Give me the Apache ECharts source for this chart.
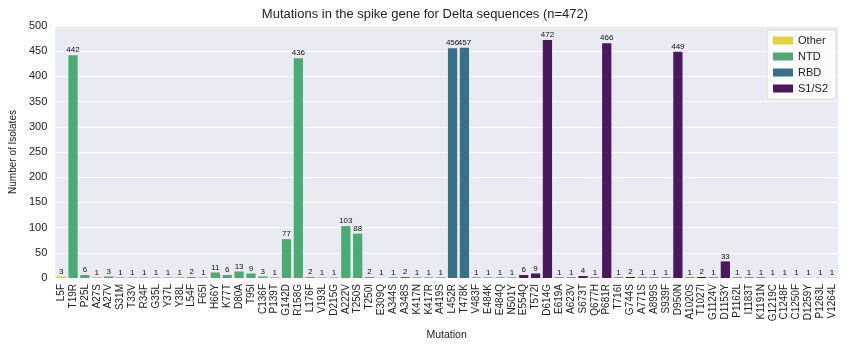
<!DOCTYPE html>
<html><head><meta charset="utf-8">
<script src="https://cdn.jsdelivr.net/npm/echarts@6/dist/echarts.min.js"></script>
<style>html,body{margin:0;padding:0;background:#fff}#c{width:850px;height:348px}</style>
</head><body><div id="c"></div>
<script>
const categories = ["L5F","T19R","P25L","A27S","A27V","S31M","T33V","R34F","G35L","Y37L","Y38L","L54F","F65I","H66Y","K77T","D80A","T95I","C136F","P139T","G142D","R158G","L176F","V193L","D215G","A222V","T250S","T250I","E309Q","A344S","A348S","K417N","K417R","A419S","L452R","T478K","V483F","E484K","E484Q","N501Y","E554Q","T572I","D614G","E619A","A623V","S673T","Q677H","P681R","T716I","G744S","A771S","A899S","S939F","D950N","A1020S","T1027I","G1124V","D1153Y","P1162L","I1183T","K1191N","G1219C","C1248F","C1250F","D1259Y","P1263L","V1264L"];
const counts = [3,442,6,1,3,1,1,1,1,1,1,2,1,11,6,13,9,3,1,77,436,2,1,1,103,88,2,1,1,2,1,1,1,456,457,1,1,1,1,6,9,472,1,1,4,1,466,1,2,1,1,1,449,1,2,1,33,1,1,1,1,1,1,1,1,1];
const regions = ["Other","NTD","NTD","NTD","NTD","NTD","NTD","NTD","NTD","NTD","NTD","NTD","NTD","NTD","NTD","NTD","NTD","NTD","NTD","NTD","NTD","NTD","NTD","NTD","NTD","NTD","NTD","Other","RBD","RBD","RBD","RBD","RBD","RBD","RBD","RBD","RBD","RBD","RBD","S1/S2","S1/S2","S1/S2","S1/S2","S1/S2","S1/S2","S1/S2","S1/S2","S1/S2","S1/S2","S1/S2","S1/S2","S1/S2","S1/S2","S1/S2","S1/S2","S1/S2","S1/S2","S1/S2","S1/S2","S1/S2","Other","Other","Other","Other","Other","Other"];
const groups = ["Other","NTD","RBD","S1/S2"];
const colors = {"Other":"#e3d23f","NTD":"#4cab73","RBD":"#3a6f88","S1/S2":"#48195d"};
const yTicks = {min:0,max:500,interval:50};

const series = groups.map(g => ({
  name: g, type: 'bar', stack: 'all', barWidth: '78%',
  itemStyle: {color: colors[g]},
  label: {show: true, position: 'top', fontSize: 8, color: '#111', distance: 1, fontFamily: 'Liberation Sans'},
  data: counts.map((v,i) => regions[i] === g ? v : '-')
}));

const chart = echarts.init(document.getElementById('c'));
chart.setOption({
  animation: false,
  backgroundColor: '#fff',
  title: {text: 'Mutations in the spike gene for Delta sequences (n=472)', left: 'center', top: 3,
    textStyle: {fontSize: 13, fontWeight: 'normal', color: '#222', fontFamily: 'Liberation Sans'}},
  grid: {left: 50, right: 12, top: 26, bottom: 70, show: true, backgroundColor: '#eaeaf2', borderWidth: 0},
  legend: {data: groups, orient: 'vertical', right: 14, top: 30, icon: 'rect', itemWidth: 20, itemHeight: 8,
    itemGap: 5, backgroundColor: 'rgba(255,255,255,0.85)', borderColor: '#dcdcdc', borderWidth: 1, borderRadius: 3,
    padding: [5,8,5,6], textStyle: {fontSize: 11, color: '#222', fontFamily: 'Liberation Sans'}},
  xAxis: {type: 'category', data: categories, name: 'Mutation', nameLocation: 'middle', nameGap: 38,
    nameTextStyle: {fontSize: 10.5, color: '#222', fontFamily: 'Liberation Sans'},
    axisLine: {show: false}, axisTick: {show: false},
    axisLabel: {rotate: 90, interval: 0, fontSize: 10, color: '#222', margin: 6, fontFamily: 'Liberation Sans'}},
  yAxis: {type: 'value', min: yTicks.min, max: yTicks.max, interval: yTicks.interval,
    name: 'Number of Isolates', nameLocation: 'middle', nameGap: 34,
    nameTextStyle: {fontSize: 10, color: '#222', fontFamily: 'Liberation Sans'},
    axisLine: {show: false}, axisTick: {show: false},
    axisLabel: {fontSize: 11, color: '#222', margin: 8, fontFamily: 'Liberation Sans'},
    splitLine: {lineStyle: {color: '#fff', width: 1}}},
  series: series
});
</script></body></html>
